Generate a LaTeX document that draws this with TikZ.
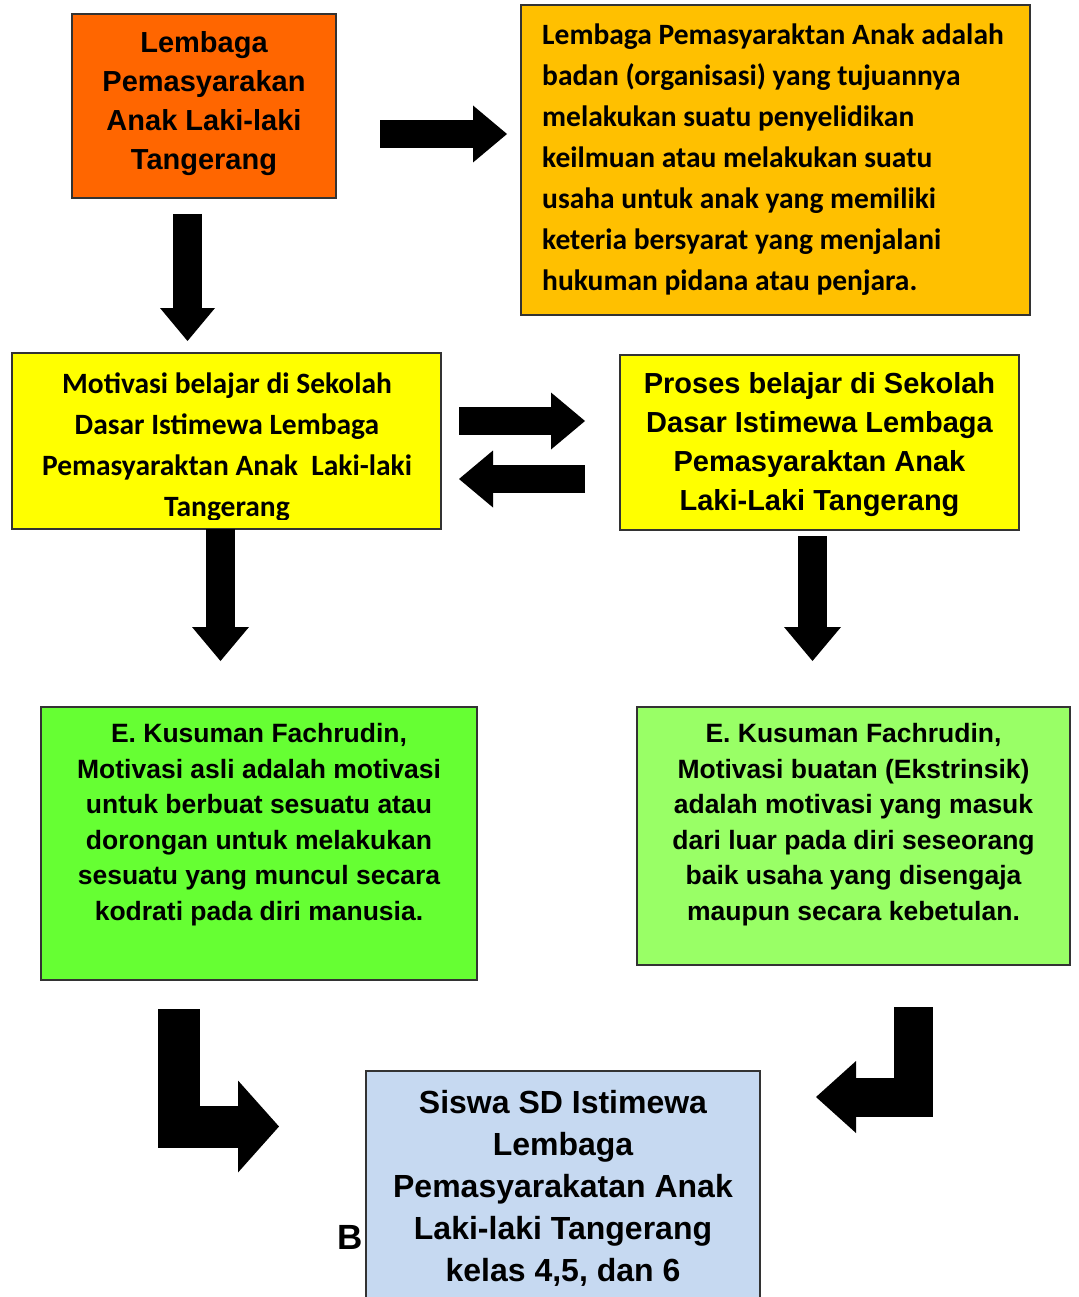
\documentclass[tikz,border=0pt]{standalone}
\usepackage{fontspec}
\setmainfont{Liberation Sans}
\newfontfamily\calibri{Carlito}
\usetikzlibrary{arrows.meta}
\definecolor{oranye}{HTML}{FF6600}
\definecolor{amber}{HTML}{FFC000}
\definecolor{kuning}{HTML}{FFFF00}
\definecolor{hijau}{HTML}{66FF33}
\definecolor{hijaumuda}{HTML}{99FF66}
\definecolor{birumuda}{HTML}{C6D9F1}
\tikzset{
  kotak/.style={draw=black!80, line width=1.2pt, inner sep=0pt},
  teksarial/.style={align=center, inner sep=0pt, anchor=north, font=\bfseries\fontsize{29}{39}\selectfont},
  tekscal/.style={inner sep=0pt, font=\calibri\bfseries\fontsize{29.5}{41}\selectfont},
  panah/.style={line width=28.5pt, -{Triangle[width=57pt,length=34pt,line width=0pt]}},
}

\begin{document}
\begin{tikzpicture}[x=1pt,y=-1pt]
\useasboundingbox (0,0) rectangle (1078,1297);

\node[kotak, fill=oranye, minimum width=264, minimum height=184] (lpa) at (204,106) {};
\node[teksarial] (lpa-t) at (204,31) {Lembaga\\Pemasyarakan\\Anak Laki-laki\\Tangerang};

\node[kotak, fill=amber, minimum width=509, minimum height=310] (def) at (775.5,160) {};
\node[tekscal, anchor=north west, align=left] (def-t) at (542,24) {Lembaga Pemasyaraktan Anak adalah\\badan (organisasi) yang tujuannya\\melakukan suatu penyelidikan\\keilmuan atau melakukan suatu\\usaha untuk anak yang memiliki\\keteria bersyarat yang menjalani\\hukuman pidana atau penjara.};

\node[kotak, fill=kuning, minimum width=429, minimum height=176] (motiv) at (226.5,441) {};
\begin{scope}
\clip (12,353) rectangle (441,519);
\node[tekscal, anchor=north, align=center, font=\calibri\bfseries\fontsize{29.5}{41}\selectfont] (motiv-t) at (227,373) {Motivasi belajar di Sekolah\\Dasar Istimewa Lembaga\\Pemasyaraktan Anak\ \ Laki-laki\\Tangerang};
\end{scope}

\node[kotak, fill=kuning, minimum width=399, minimum height=175] (proses) at (819.5,442.5) {};
\node[teksarial] (proses-t) at (819.5,372.5) {Proses belajar di Sekolah\\Dasar Istimewa Lembaga\\Pemasyaraktan Anak\\Laki-Laki Tangerang};

\node[kotak, fill=hijau, minimum width=436, minimum height=273] (asli) at (259,843.5) {};
\node[teksarial, font=\bfseries\fontsize{26.5}{35.5}\selectfont] (asli-t) at (259,723.5) {E. Kusuman Fachrudin,\\Motivasi asli adalah motivasi\\untuk berbuat sesuatu atau\\dorongan untuk melakukan\\sesuatu yang muncul secara\\kodrati pada diri manusia.};

\node[kotak, fill=hijaumuda, minimum width=433, minimum height=258] (buatan) at (853.5,836) {};
\node[teksarial, font=\bfseries\fontsize{26.5}{35.5}\selectfont] (buatan-t) at (853.5,723.5) {E. Kusuman Fachrudin,\\Motivasi buatan (Ekstrinsik)\\adalah motivasi yang masuk\\dari luar pada diri seseorang\\baik usaha yang disengaja\\maupun secara kebetulan.};

\node[anchor=base west, inner sep=0pt, font=\bfseries\fontsize{35}{40}\selectfont] (huruf-b) at (337,1249) {B};
\node[kotak, fill=birumuda, minimum width=394, minimum height=234] (siswa) at (563,1188) {};
\node[teksarial, font=\bfseries\fontsize{32}{42}\selectfont] (siswa-t) at (563,1090) {Siswa SD Istimewa\\Lembaga\\Pemasyarakatan Anak\\Laki-laki Tangerang\\kelas 4,5, dan 6};

\coordinate (a1) at (380,134);
\coordinate (a2) at (507,134);
\coordinate (b1) at (187.5,214);
\coordinate (b2) at (187.5,341);
\coordinate (c1) at (459,421);
\coordinate (c2) at (585,421);
\coordinate (d1) at (585,479);
\coordinate (d2) at (459,479);
\coordinate (e1) at (220.5,529);
\coordinate (e2) at (220.5,661);
\coordinate (f1) at (812.5,536);
\coordinate (f2) at (812.5,661);
\coordinate (g1) at (179,1009);
\coordinate (g2) at (279,1126.5);
\coordinate (h1) at (913.5,1007);
\coordinate (h2) at (816,1097);

\draw[panah] (a1) -- (a2);
\draw[panah, -{Triangle[width=55pt,length=33pt,line width=0pt]}] (b1) -- (b2);
\draw[panah] (c1) -- (c2);
\draw[panah] (d1) -- (d2);
\draw[panah] (e1) -- (e2);
\draw[panah] (f1) -- (f2);
\draw[line width=42pt, line join=miter, -{Triangle[width=92pt,length=41pt,line width=0pt]}] (g1) |- (g2);
\draw[line width=39pt, line join=miter, -{Triangle[width=72pt,length=40pt,line width=0pt]}] (h1) |- (h2);
\end{tikzpicture}
\end{document}
